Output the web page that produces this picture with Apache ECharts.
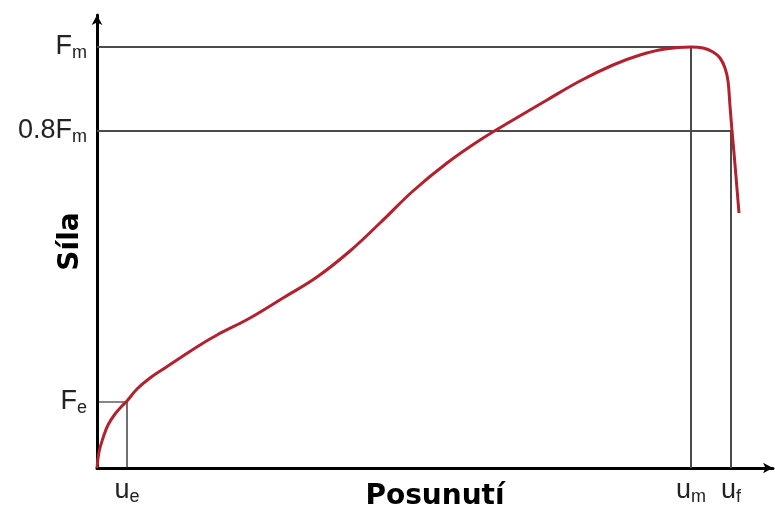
<!DOCTYPE html>
<html>
<head>
<meta charset="utf-8">
<title>Síla - Posunutí</title>
<script src="https://cdn.jsdelivr.net/npm/echarts@6/dist/echarts.min.js"></script>
<style>
  html, body { margin: 0; padding: 0; background: #fff; }
  #chart { width: 775px; height: 510px; }
</style>
</head>
<body>
<div id="chart"></div>
<script>
// curve (displacement, force) in arbitrary units
var curveU = [0, 2, 6, 11, 18, 25, 30, 40, 53, 68, 86, 103, 120, 153, 186, 220, 253, 283, 316, 350, 383, 416, 450, 483, 516, 543, 568, 594, 606, 616, 623, 628, 631, 633, 635, 637, 642]
var curveF = [0, 16, 30, 43, 54, 62, 67, 79, 90, 100, 112, 123, 133, 150, 170, 191, 217, 245, 277, 305, 328, 348, 368, 387, 403, 413, 419, 421, 420, 416, 410, 400, 387, 362, 337, 315, 255]

// characteristic points
var Fe = 66, ue = 30
var Fm = 421, um = 594
var F08 = 337, uf = 634

var yTicks = [Fe, F08, Fm]
var yTickLabels = ['{a|F}{s|e}', '{a|0.8F}{s|m}', '{a|F}{s|m}']
var xTicks = [ue, um, uf]
var xTickLabels = ['{a|u}{s|e}', '{a|u}{s|m}', '{a|u}{s|f}']

var uMax = 676, fMax = 453

var richText = {
  a: { fontSize: 27, fontFamily: 'Liberation Sans', color: '#222' },
  s: { fontSize: 18, fontFamily: 'Liberation Sans', color: '#222', padding: [12, 0, 0, 0] }
}

function pairs(xs, ys) {
  return xs.map(function (x, i) { return [x, ys[i]] })
}

var chart = echarts.init(document.getElementById('chart'))
chart.setOption({
  animation: false,
  grid: { left: 97, right: 2, top: 15, bottom: 42, outerBoundsMode: 'none', containLabel: false },
  xAxis: {
    type: 'value',
    min: 0,
    max: uMax,
    name: 'Posunutí',
    nameLocation: 'middle',
    nameGap: 15,
    nameMoveOverlap: false,
    nameTextStyle: { fontFamily: 'DejaVu Sans', fontWeight: 'bold', fontSize: 28, color: '#000', verticalAlign: 'top' },
    axisLine: { lineStyle: { color: '#000', width: 3 }, symbol: ['none', 'arrow'], symbolSize: [8, 10] },
    axisTick: { show: false },
    splitLine: { show: false },
    axisLabel: {
      customValues: xTicks,
      margin: 8,
      formatter: function (v) { return xTickLabels[xTicks.indexOf(v)] },
      rich: richText
    }
  },
  yAxis: {
    type: 'value',
    min: 0,
    max: fMax,
    name: 'Síla',
    nameLocation: 'middle',
    nameGap: 12,
    nameRotate: 90,
    nameMoveOverlap: false,
    nameTextStyle: { fontFamily: 'DejaVu Sans', fontWeight: 'bold', fontSize: 28, color: '#000' },
    axisLine: { lineStyle: { color: '#000', width: 3 }, symbol: ['none', 'arrow'], symbolSize: [8, 10] },
    axisTick: { show: false },
    splitLine: { show: false },
    axisLabel: {
      customValues: yTicks,
      margin: 10,
      formatter: function (v) { return yTickLabels[yTicks.indexOf(v)] },
      rich: richText
    }
  },
  series: [
    {
      type: 'line',
      data: [[0, Fm], [um, Fm], [um, 0]],
      symbol: 'none',
      lineStyle: { color: '#4a4a4a', width: 2 }
    },
    {
      type: 'line',
      data: [[0, F08], [uf, F08], [uf, 0]],
      symbol: 'none',
      lineStyle: { color: '#4a4a4a', width: 2 }
    },
    {
      type: 'line',
      data: [[0, Fe], [ue, Fe], [ue, 0]],
      symbol: 'none',
      lineStyle: { color: '#111', width: 1.2 }
    },
    {
      type: 'line',
      data: pairs(curveU, curveF),
      symbol: 'none',
      smooth: 0.4,
      lineStyle: { color: '#b3202e', width: 3 }
    }
  ]
})
</script>
</body>
</html>
